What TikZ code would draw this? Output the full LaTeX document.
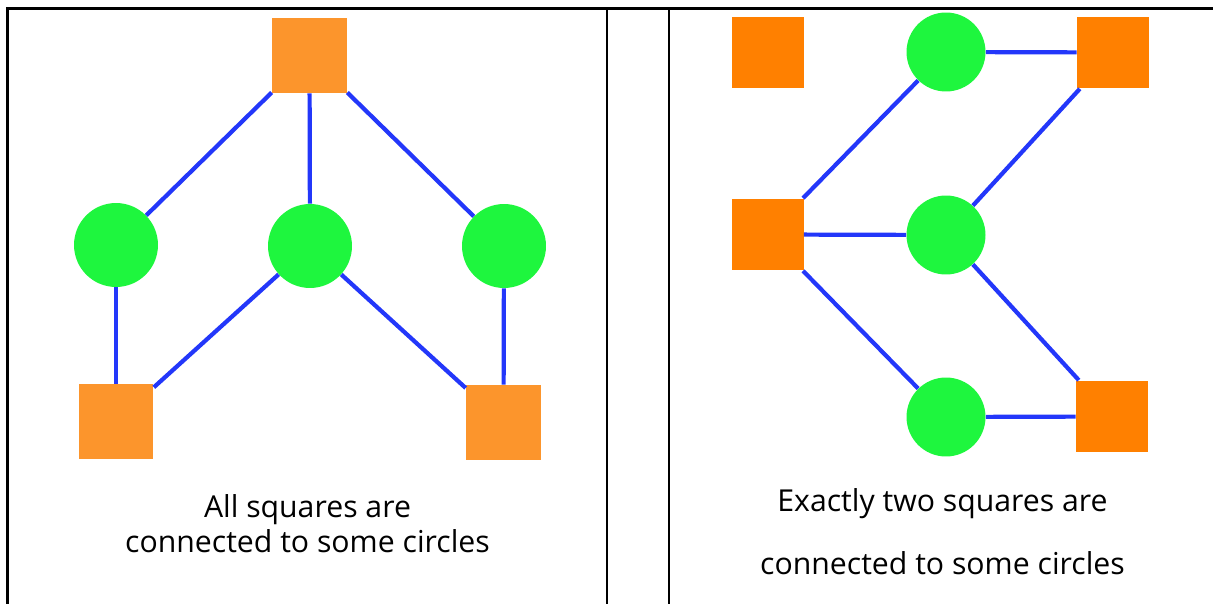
\documentclass[tikz,border=0pt]{standalone}
\usepackage{fontspec}
\setmainfont{Open Sans}
\definecolor{sqlight}{RGB}{252,149,44}
\definecolor{sqdark}{RGB}{255,128,0}
\definecolor{circgreen}{RGB}{30,246,62}
\definecolor{edgeblue}{RGB}{35,55,250}
\begin{document}
\begin{tikzpicture}[x=0.02cm, y=-0.02cm,
  sql/.style={fill=sqlight, minimum size=1.5cm, inner sep=0},
  sqr/.style={fill=sqdark, minimum size=1.44cm, inner sep=0},
  cl/.style={circle, fill=circgreen, minimum size=1.68cm, inner sep=0},
  cr/.style={circle, fill=circgreen, minimum size=1.58cm, inner sep=0},
  edge/.style={draw=edgeblue, line width=2.4pt},
  rule/.style={line width=1.4pt},
  caption/.style={font=\fontsize{17.2}{20}\selectfont}]
\useasboundingbox (0,0) rectangle (1213,604);
% table lines
\coordinate (tl) at (7.5,8.5);
\coordinate (tr) at (1213,8.5);
\coordinate (bl) at (7.5,604);
\coordinate (m1) at (607,8.5);
\coordinate (m1b) at (607,604);
\coordinate (m2) at (669,8.5);
\coordinate (m2b) at (669,604);
\draw[rule] (bl) -- (tl) -- (tr);
\draw[rule] (m1) -- (m1b);
\draw[rule] (m2) -- (m2b);
% left panel
\node[sql] (s1) at (309.5,55.5) {};
\node[cl] (c1) at (116,245) {};
\node[cl] (c2) at (310,246) {};
\node[cl] (c3) at (504,246) {};
\node[sql] (s2) at (116,421.5) {};
\node[sql] (s3) at (503.5,422.5) {};
\draw[edge] (s1) -- (c1);
\draw[edge] (s1) -- (c2);
\draw[edge] (s1) -- (c3);
\draw[edge] (c1) -- (s2);
\draw[edge] (c2) -- (s2);
\draw[edge] (c2) -- (s3);
\draw[edge] (c3) -- (s3);
\node[caption] (t1) at (307.5,510) {All squares are};
\node[caption] (t2) at (307.5,541) {connected to some circles};
% right panel
\node[sqr] (r1) at (768,52.5) {};
\node[cr] (d1) at (946,52) {};
\node[sqr] (r2) at (1113,52.5) {};
\node[sqr] (r3) at (767.5,234.5) {};
\node[cr] (d2) at (946,235) {};
\node[cr] (d3) at (946,417) {};
\node[sqr] (r4) at (1112,416.5) {};
\draw[edge] (d1) -- (r2);
\draw[edge] (r3) -- (d1);
\draw[edge] (r3) -- (d2);
\draw[edge] (r3) -- (d3);
\draw[edge] (d2) -- (r2);
\draw[edge] (d2) -- (r4);
\draw[edge] (d3) -- (r4);
\node[caption] (t3) at (942.5,504) {Exactly two squares are};
\node[caption] (t4) at (942.5,563) {connected to some circles};
\end{tikzpicture}
\end{document}
